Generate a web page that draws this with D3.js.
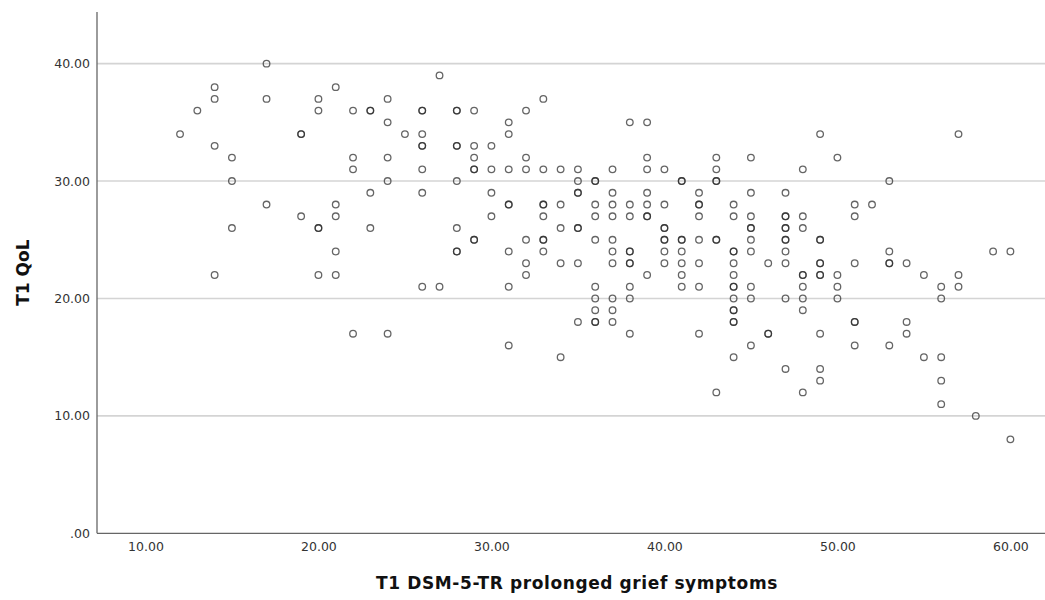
<!DOCTYPE html>
<html>
<head>
<meta charset="utf-8">
<script src="https://cdn.jsdelivr.net/npm/d3@7"></script>
<style>
  html, body { margin: 0; padding: 0; background: #fff; }
  svg { display: block; }
</style>
</head>
<body>
<svg id="chart" width="1045" height="600"></svg>
<script>
// Grief symptom scores (x) and the QoL values observed at each score (y)
const griefScores = [12,13,14,15,17,19,20,21,22,23,24,25,26,27,28,29,30,31,32,33,34,35,36,37,38,39,40,41,42,43,44,45,46,47,48,49,50,51,52,53,54,55,56,57,58,59,60];
const qolByScore = [
  [34],
  [36],
  [38,37,33,22],
  [32,30,26],
  [40,37,28],
  [34,34,27],
  [37,36,26,26,22],
  [38,28,27,24,22],
  [36,32,31,17],
  [36,36,29,26],
  [37,35,32,30,17],
  [34],
  [36,36,34,33,33,31,29,21],
  [39,21],
  [36,36,33,33,30,26,24,24],
  [36,33,32,31,31,25,25],
  [33,31,29,27],
  [35,34,31,28,28,24,21,16],
  [36,32,31,25,23,22],
  [37,31,28,28,27,25,25,24],
  [31,28,26,23,15],
  [31,30,29,29,26,26,23,18],
  [30,30,28,27,25,21,20,19,18,18],
  [31,29,28,27,25,24,23,20,19,18],
  [35,28,27,24,24,23,23,21,20,17],
  [35,32,31,29,28,27,27,22],
  [31,28,26,26,25,25,24,23],
  [30,30,25,25,24,23,22,21],
  [29,28,28,27,25,23,21,17],
  [32,31,30,30,25,25,12],
  [28,27,24,24,23,22,21,21,20,19,19,18,18,15],
  [32,29,27,26,26,25,24,21,20,16],
  [23,17,17],
  [29,27,27,26,26,25,25,24,23,20,14],
  [31,27,26,22,22,21,20,19,12],
  [34,25,25,23,23,22,22,17,14,13],
  [32,22,21,20],
  [28,27,23,18,18,16],
  [28],
  [30,24,23,23,16],
  [23,18,17],
  [22,15],
  [21,20,15,13,11],
  [34,22,21],
  [10],
  [24],
  [24,8]
];
const xTicks = [10,20,30,40,50,60];
const yTicks = [0,10,20,30,40];
const xTitle = "T1 DSM-5-TR prolonged grief symptoms";
const yTitle = "T1 QoL";

const points = [];
griefScores.forEach((g, i) => qolByScore[i].forEach(q => points.push({x: g, y: q})));

const svg = d3.select("#chart");
const mLeft = 97, mRight = 1045, mTop = 12, mBottom = 533.3;

const x = d3.scaleLinear().domain([7.2, 62]).range([mLeft, mRight]);
const y = d3.scaleLinear().domain([0, 44.4]).range([mBottom, mTop]);

const fmt = d => d === 0 ? ".00" : d3.format(".2f")(d);

// gridlines
svg.append("g")
  .selectAll("line")
  .data(yTicks.filter(d => d > 0))
  .join("line")
  .attr("x1", mLeft).attr("x2", mRight)
  .attr("y1", d => y(d)).attr("y2", d => y(d))
  .attr("stroke", "#d4d4d4")
  .attr("stroke-width", 1.6);

// y axis
const yAxis = svg.append("g")
  .attr("transform", `translate(${mLeft},0)`)
  .call(d3.axisLeft(y).tickValues(yTicks).tickFormat(fmt).tickSize(0).tickPadding(7));
yAxis.select(".domain").attr("stroke", "#666").attr("stroke-width", 1.3)
  .attr("d", `M0,${mTop}V${mBottom}`);
yAxis.selectAll("text")
  .attr("font-family", "DejaVu Sans, Verdana, sans-serif")
  .attr("font-size", 12.5)
  .attr("fill", "#333");

// x axis
const xAxis = svg.append("g")
  .attr("transform", `translate(0,${mBottom})`)
  .call(d3.axisBottom(x).tickValues(xTicks).tickFormat(fmt).tickSize(0).tickPadding(9));
xAxis.select(".domain").attr("stroke", "#666").attr("stroke-width", 1.3)
  .attr("d", `M${mLeft},0H${mRight}`);
xAxis.selectAll("text")
  .attr("font-family", "DejaVu Sans, Verdana, sans-serif")
  .attr("font-size", 12.5)
  .attr("fill", "#333");

// points
svg.append("g")
  .selectAll("circle")
  .data(points)
  .join("circle")
  .attr("cx", d => x(d.x))
  .attr("cy", d => y(d.y))
  .attr("r", 3.3)
  .attr("fill", "none")
  .attr("stroke", "#2a2a2a")
  .attr("stroke-opacity", 0.72)
  .attr("stroke-width", 1.3);

// axis titles
svg.append("text")
  .attr("x", 577)
  .attr("y", 589)
  .attr("text-anchor", "middle")
  .attr("font-family", "DejaVu Sans, Verdana, sans-serif")
  .attr("font-weight", "bold")
  .attr("font-size", 17)
  .attr("letter-spacing", 0.6)
  .attr("fill", "#111")
  .text(xTitle);

svg.append("text")
  .attr("transform", `translate(29,${(mTop + mBottom) / 2}) rotate(-90)`)
  .attr("text-anchor", "middle")
  .attr("font-family", "DejaVu Sans, Verdana, sans-serif")
  .attr("font-weight", "bold")
  .attr("font-size", 17)
  .attr("fill", "#111")
  .text(yTitle);
</script>
</body>
</html>
